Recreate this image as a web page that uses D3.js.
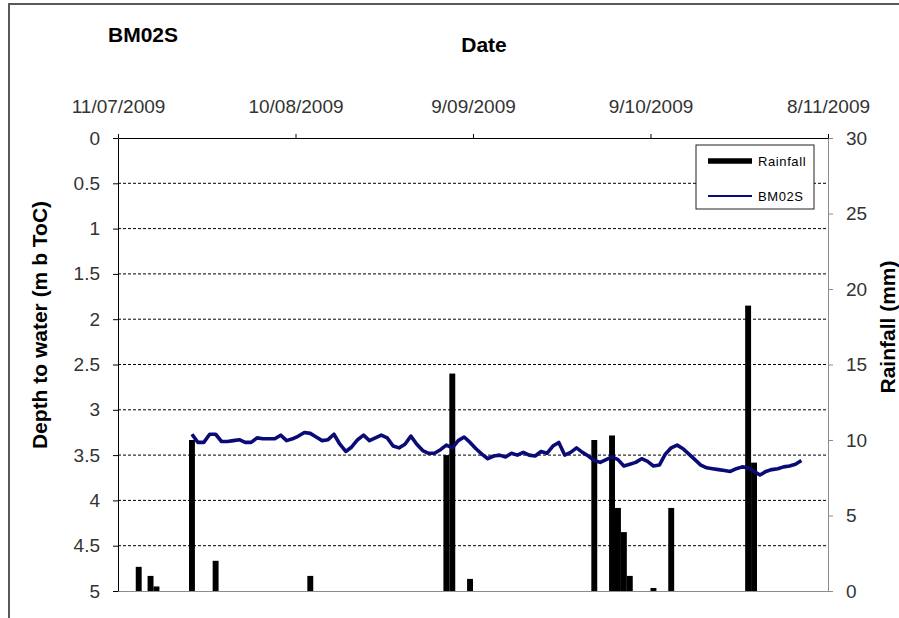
<!DOCTYPE html>
<html>
<head>
<meta charset="utf-8">
<script src="https://cdn.jsdelivr.net/npm/d3@7"></script>
<style>
body { margin: 0; background: #fff; }
svg { font-family: "Liberation Sans", Arial, sans-serif; }
</style>
</head>
<body>
<svg width="899" height="618"></svg>
<script>
var wellName = "BM02S";
var dateTicks = ["2009-07-11", "2009-08-10", "2009-09-09", "2009-10-09", "2009-11-08"];
var depthTicks = [0, 0.5, 1, 1.5, 2, 2.5, 3, 3.5, 4, 4.5, 5];
var gridDepths = [0.5, 1, 1.5, 2, 2.5, 3, 3.5, 4, 4.5];
var rainTicks = [0, 5, 10, 15, 20, 25, 30];

// daily rainfall (mm)
var rainDates = ["2009-07-14", "2009-07-16", "2009-07-17", "2009-07-23", "2009-07-27",
    "2009-08-12", "2009-09-04", "2009-09-05", "2009-09-08", "2009-09-29",
    "2009-10-02", "2009-10-03", "2009-10-04", "2009-10-05", "2009-10-09",
    "2009-10-12", "2009-10-25", "2009-10-26"];
var rainValues = [1.6, 1.0, 0.3, 10.0, 2.0, 1.0, 9.0, 14.4, 0.8, 10.0,
    10.3, 5.5, 3.9, 1.0, 0.2, 5.5, 18.9, 8.5];

// depth to water, one reading per day from the start date
var levelStart = "2009-07-23T12:00";
var levelValues = [3.27, 3.36, 3.36, 3.27, 3.27, 3.35, 3.35, 3.34, 3.33, 3.36,
    3.36, 3.31, 3.32, 3.32, 3.32, 3.28, 3.34, 3.32, 3.29, 3.25,
    3.26, 3.30, 3.34, 3.33, 3.27, 3.38, 3.46, 3.41, 3.33, 3.28,
    3.34, 3.31, 3.28, 3.31, 3.40, 3.42, 3.38, 3.29, 3.38, 3.45,
    3.48, 3.48, 3.44, 3.39, 3.42, 3.34, 3.30, 3.36, 3.43, 3.49,
    3.54, 3.51, 3.50, 3.52, 3.48, 3.50, 3.47, 3.50, 3.51, 3.46,
    3.48, 3.40, 3.36, 3.50, 3.47, 3.42, 3.47, 3.51, 3.56, 3.58,
    3.55, 3.52, 3.55, 3.62, 3.60, 3.58, 3.54, 3.57, 3.62, 3.61,
    3.49, 3.42, 3.39, 3.43, 3.49, 3.55, 3.61, 3.64, 3.65, 3.66,
    3.67, 3.68, 3.65, 3.63, 3.64, 3.68, 3.72, 3.68, 3.66, 3.65,
    3.63, 3.62, 3.60, 3.56];

function render() {
    var svg = d3.select("svg");
    var left = 118, right = 828, top = 138, bottom = 591;
    var parse = d3.timeParse("%Y-%m-%d");
    var parseT = d3.timeParse("%Y-%m-%dT%H:%M");
    var fmt = d3.timeFormat("%-d/%m/%Y");

    var ticks = dateTicks.map(parse);
    var x = d3.scaleTime().domain([ticks[0], ticks[ticks.length - 1]]).range([left, right]);
    var yDepth = d3.scaleLinear().domain([0, 5]).range([top, bottom]);
    var yRain = d3.scaleLinear().domain([0, 30]).range([bottom, top]);

    // outer frame (cropped)
    svg.append("path")
        .attr("d", "M9,618V4H899")
        .attr("fill", "none")
        .attr("stroke", "#5a5a5a")
        .attr("stroke-width", 2);

    // gridlines
    svg.append("g").selectAll("line")
        .data(gridDepths).enter()
        .append("line")
            .attr("x1", left).attr("x2", right)
            .attr("y1", function(d) { return yDepth(d); })
            .attr("y2", function(d) { return yDepth(d); })
            .attr("stroke", "#000")
            .attr("stroke-width", 1)
            .attr("stroke-dasharray", "3,2");

    // rainfall bars
    var rain = rainDates.map(function(d, i) { return {date: parse(d), v: rainValues[i]}; });
    svg.append("g").selectAll("rect")
        .data(rain).enter()
        .append("rect")
            .attr("x", function(d) { return x(d.date); })
            .attr("width", function(d) { return x(d3.timeDay.offset(d.date, 1)) - x(d.date); })
            .attr("y", function(d) { return yRain(d.v); })
            .attr("height", function(d) { return yRain(0) - yRain(d.v); })
            .attr("fill", "#000");

    // bottom and right axes (grey)
    var xBottom = d3.axisBottom(x).tickValues([]).tickSizeOuter(0);
    var gb = svg.append("g").attr("transform", "translate(0," + bottom + ")").call(xBottom);
    gb.select(".domain").attr("stroke", "#8c8c8c");

    var yRight = d3.axisRight(yRain).tickValues(rainTicks).tickSize(5).tickSizeOuter(0).tickPadding(13);
    var gr = svg.append("g").attr("transform", "translate(" + right + ",0)").call(yRight);
    gr.select(".domain").attr("stroke", "#8c8c8c");
    gr.selectAll(".tick line").attr("stroke", "#8c8c8c");
    gr.selectAll("text").attr("fill", "#333").style("font-size", "19px")
        .style("font-family", "'Liberation Sans', Arial, sans-serif");

    // depth line
    var start = parseT(levelStart);
    var level = levelValues.map(function(v, i) { return {date: d3.timeDay.offset(start, i), v: v}; });
    var line = d3.line()
        .x(function(d) { return x(d.date); })
        .y(function(d) { return yDepth(d.v); });
    svg.append("path")
        .datum(level)
        .attr("d", line)
        .attr("fill", "none")
        .attr("stroke", "#0b0b78")
        .attr("stroke-width", 3.6)
        .attr("stroke-linejoin", "round");

    // left and top axes (black)
    var yLeft = d3.axisLeft(yDepth).tickValues(depthTicks).tickSize(5).tickSizeOuter(0).tickPadding(13)
        .tickFormat(function(d) { return String(d); });
    var gl = svg.append("g").attr("transform", "translate(" + left + ",0)").call(yLeft);
    gl.selectAll("text").attr("fill", "#333").style("font-size", "19px")
        .style("font-family", "'Liberation Sans', Arial, sans-serif");

    var xTop = d3.axisTop(x).tickValues(ticks).tickFormat(fmt).tickSize(4).tickSizeOuter(0).tickPadding(21);
    var gt = svg.append("g").attr("transform", "translate(0," + top + ")").call(xTop);
    gt.selectAll("text").attr("fill", "#333").style("font-size", "19px")
        .style("font-family", "'Liberation Sans', Arial, sans-serif");

    // titles
    svg.append("text")
        .attr("x", 108).attr("y", 42)
        .style("font-size", "21px").style("font-weight", "bold")
        .text(wellName);
    svg.append("text")
        .attr("x", 484).attr("y", 52)
        .style("text-anchor", "middle")
        .style("font-size", "21px").style("font-weight", "bold")
        .text("Date");
    svg.append("text")
        .attr("transform", "translate(47,325) rotate(-90)")
        .style("text-anchor", "middle")
        .style("font-size", "21px").style("font-weight", "bold")
        .text("Depth to water (m b ToC)");
    svg.append("text")
        .attr("transform", "translate(895,327) rotate(-90)")
        .style("text-anchor", "middle")
        .style("font-size", "21px").style("font-weight", "bold")
        .text("Rainfall (mm)");

    // legend
    var lg = svg.append("g").attr("transform", "translate(696,145)");
    lg.append("rect")
        .attr("width", 118).attr("height", 64)
        .attr("fill", "#fff").attr("stroke", "#222").attr("stroke-width", 1);
    lg.append("line")
        .attr("x1", 12).attr("x2", 56).attr("y1", 16).attr("y2", 16)
        .attr("stroke", "#000").attr("stroke-width", 5.5);
    lg.append("line")
        .attr("x1", 12).attr("x2", 56).attr("y1", 51).attr("y2", 51)
        .attr("stroke", "#0b0b78").attr("stroke-width", 2);
    lg.append("text")
        .attr("x", 62).attr("y", 16).attr("dy", "0.35em")
        .style("font-size", "13px").style("letter-spacing", "0.6px")
        .text("Rainfall");
    lg.append("text")
        .attr("x", 62).attr("y", 51).attr("dy", "0.35em")
        .style("font-size", "13px").style("letter-spacing", "0.6px")
        .text(wellName);
}

render();
</script>
</body>
</html>
